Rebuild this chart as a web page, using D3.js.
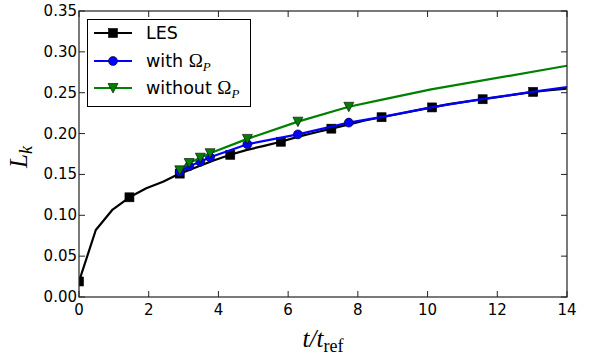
<html><head>
  <script src="https://d3js.org/d3.v7.min.js"></script>
  <style>
    body { margin: 0; background: white; }
  </style>
</head>
<body>
  <svg id="chart" width="601" height="358"></svg>
  <script>
    // LES curve (markers on every 3rd point)
    const lesT = [0, 0.482, 0.965, 1.447, 1.93, 2.41, 2.89, 3.38, 3.86, 4.34, 4.82, 5.31, 5.79, 6.27, 6.75,
                  7.24, 7.72, 8.20, 8.68, 9.17, 9.65, 10.13, 10.61, 11.10, 11.58, 12.06, 12.54, 13.03, 13.51, 13.99];
    const lesL = [0.019, 0.082, 0.107, 0.122, 0.133, 0.141, 0.151, 0.159, 0.167, 0.174, 0.180, 0.185, 0.190, 0.196, 0.201,
                  0.206, 0.211, 0.216, 0.220, 0.224, 0.228, 0.232, 0.236, 0.239, 0.242, 0.245, 0.248, 0.251, 0.253, 0.255];
    const lesMarkEvery = 3;

    // with Omega_P (markers on first 7 points)
    const withT = [2.89, 3.16, 3.48, 3.76, 4.83, 6.28, 7.74, 8.7, 10.1, 11.6, 13.0, 14.0];
    const withL = [0.153, 0.160, 0.1655, 0.171, 0.187, 0.199, 0.2134, 0.2205, 0.232, 0.2425, 0.251, 0.257];

    // without Omega_P
    const withoutT = [2.89, 3.16, 3.48, 3.76, 4.83, 6.28, 7.74, 8.7, 10.1, 14.0];
    const withoutL = [0.155, 0.164, 0.1705, 0.176, 0.1935, 0.2146, 0.2328, 0.2415, 0.254, 0.283];
    const omegaMarkCount = 7;

    const xTicks = [0, 2, 4, 6, 8, 10, 12, 14];
    const yTicks = [0, 0.05, 0.10, 0.15, 0.20, 0.25, 0.30, 0.35];

    let svg = d3.select("svg#chart");
    const pLeft = 79, pRight = 567, pTop = 11, pBottom = 297;

    let x = d3.scaleLinear().domain([0, 14]).range([pLeft, pRight]);
    let y = d3.scaleLinear().domain([0, 0.35]).range([pBottom, pTop]);

    let plot = svg.append("g");
    svg.append("clipPath").attr("id", "clip")
       .append("rect").attr("x", pLeft).attr("y", pTop - 6).attr("width", pRight - pLeft).attr("height", pBottom - pTop + 12);

    const line = d3.line().x(d => x(d[0])).y(d => y(d[1]));

    function zipPts(ts, ls) { return ts.map((t, i) => [t, ls[i]]); }

    function drawMarker(g, type, cx, cy, color) {
      if (type === "square") {
        g.append("rect").attr("x", cx - 4.5).attr("y", cy - 4.5).attr("width", 9).attr("height", 9)
         .attr("fill", color).attr("stroke", "black").attr("stroke-width", 0.6);
      } else if (type === "circle") {
        g.append("circle").attr("cx", cx).attr("cy", cy).attr("r", 4.5)
         .attr("fill", color).attr("stroke", "black").attr("stroke-width", 0.6);
      } else {
        g.append("path")
         .attr("d", `M${cx - 5},${cy - 4.5} L${cx + 5},${cy - 4.5} L${cx},${cy + 5} Z`)
         .attr("fill", color).attr("stroke", "black").attr("stroke-width", 0.6);
      }
    }

    const series = [
      {name: "les", pts: zipPts(lesT, lesL), color: "black", marker: "square",
       marks: zipPts(lesT, lesL).filter((d, i) => i % lesMarkEvery === 0)},
      {name: "with", pts: zipPts(withT, withL), color: "#0000ff", marker: "circle",
       marks: zipPts(withT, withL).slice(0, omegaMarkCount)},
      {name: "without", pts: zipPts(withoutT, withoutL), color: "#008000", marker: "triangle",
       marks: zipPts(withoutT, withoutL).slice(0, omegaMarkCount)}
    ];

    series.forEach(s => {
      let g = plot.append("g").attr("clip-path", "url(#clip)");
      g.append("path").attr("d", line(s.pts))
       .attr("fill", "none").attr("stroke", s.color).attr("stroke-width", 2.2)
       .attr("stroke-linejoin", "round");
      s.marks.forEach(d => drawMarker(g, s.marker, x(d[0]), y(d[1]), s.color));
    });

    // frame
    svg.append("rect").attr("x", pLeft).attr("y", pTop).attr("width", pRight - pLeft).attr("height", pBottom - pTop)
       .attr("fill", "none").attr("stroke", "#222").attr("stroke-width", 1.2);

    // ticks (inside, all four sides)
    xTicks.forEach(t => {
      svg.append("line").attr("x1", x(t)).attr("x2", x(t)).attr("y1", pBottom).attr("y2", pBottom - 6)
         .attr("stroke", "#222").attr("stroke-width", 1);
      svg.append("line").attr("x1", x(t)).attr("x2", x(t)).attr("y1", pTop).attr("y2", pTop + 6)
         .attr("stroke", "#222").attr("stroke-width", 1);
      svg.append("text").text(t)
         .attr("x", x(t)).attr("y", pBottom + 18)
         .style("font-family", "DejaVu Sans").style("font-size", "15px")
         .style("text-anchor", "middle");
    });
    yTicks.forEach(t => {
      svg.append("line").attr("x1", pLeft).attr("x2", pLeft + 6).attr("y1", y(t)).attr("y2", y(t))
         .attr("stroke", "#222").attr("stroke-width", 1);
      svg.append("line").attr("x1", pRight).attr("x2", pRight - 6).attr("y1", y(t)).attr("y2", y(t))
         .attr("stroke", "#222").attr("stroke-width", 1);
      svg.append("text").text(t.toFixed(2))
         .attr("x", pLeft - 2).attr("y", y(t) + 5)
         .style("font-family", "DejaVu Sans").style("font-size", "15px")
         .style("text-anchor", "end");
    });

    // axis labels
    let xl = svg.append("text").attr("x", 323).attr("y", 347)
                .style("text-anchor", "middle").style("font-family", "Liberation Serif").style("font-size", "25px");
    xl.append("tspan").text("t/t").style("font-style", "italic");
    xl.append("tspan").text("ref").attr("dy", 5).style("font-size", "18px");

    let yl = svg.append("text").attr("transform", "translate(27,157) rotate(-90)")
                .style("text-anchor", "middle").style("font-family", "Liberation Serif").style("font-size", "25px");
    yl.append("tspan").text("L").style("font-style", "italic");
    yl.append("tspan").text("k").attr("dy", 5).style("font-size", "18px").style("font-style", "italic");

    // legend
    let lg = svg.append("g");
    lg.append("rect").attr("x", 87.5).attr("y", 19.5).attr("width", 163).attr("height", 87)
      .attr("fill", "white").attr("stroke", "black").attr("stroke-width", 1);
    const legendRows = [
      {label: "LES", sub: null, color: "black", marker: "square", yy: 33},
      {label: "with ", sub: true, color: "#0000ff", marker: "circle", yy: 61},
      {label: "without ", sub: true, color: "#008000", marker: "triangle", yy: 88}
    ];
    legendRows.forEach(r => {
      lg.append("line").attr("x1", 94).attr("x2", 132).attr("y1", r.yy).attr("y2", r.yy)
        .attr("stroke", r.color).attr("stroke-width", 2.2);
      drawMarker(lg, r.marker, 113, r.yy, r.color);
      let tx = lg.append("text").attr("x", 146).attr("y", r.yy + 6)
                 .style("font-family", "DejaVu Sans").style("font-size", "17.5px");
      tx.append("tspan").text(r.label);
      if (r.sub) {
        tx.append("tspan").text("Ω").style("font-family", "Liberation Serif").style("font-size", "19px");
        tx.append("tspan").text("P").attr("dy", 4).style("font-family", "Liberation Serif")
          .style("font-style", "italic").style("font-size", "13px");
      }
    });
  </script>
</body>
</html>
